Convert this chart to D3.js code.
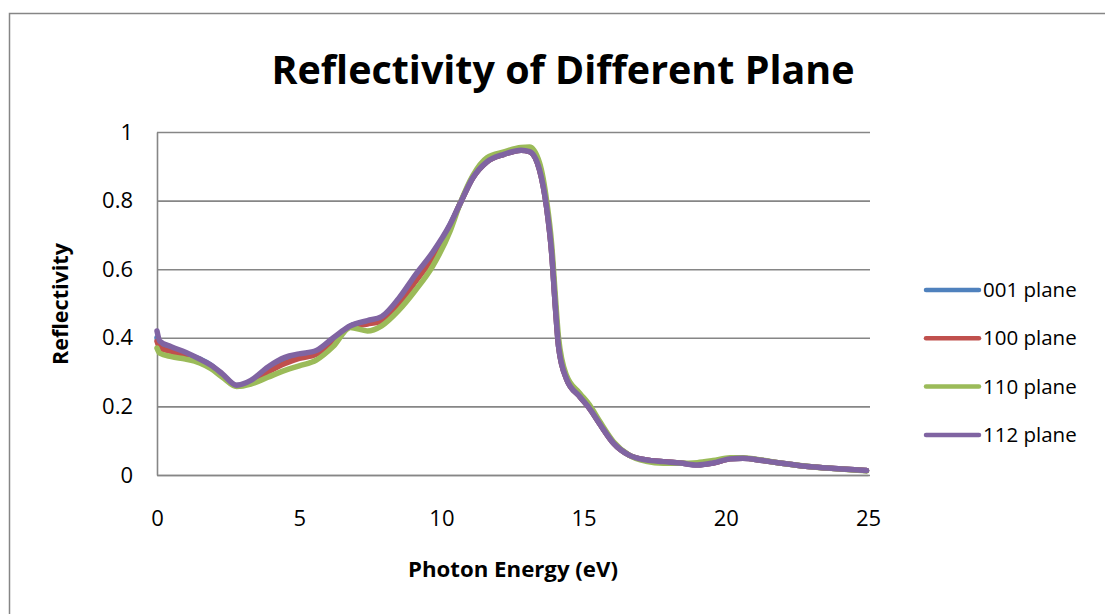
<!DOCTYPE html>
<html>
<head>
<meta charset="utf-8">
<script src="https://cdn.jsdelivr.net/npm/d3@7/dist/d3.min.js"></script>
<style>
  html, body { margin: 0; padding: 0; background: #fff; }
  svg { display: block; font-family: "Open Sans", "DejaVu Sans", sans-serif; }
</style>
</head>
<body>
<svg id="chart" width="1105" height="614"></svg>
<script>
// Photon energy sample points (eV), shared by all series
const energy = [0, 0.1, 0.5, 1.0, 1.5, 1.9, 2.3, 2.8, 3.3, 3.9, 4.5, 5.0, 5.6, 6.2, 6.8, 7.4, 7.9,
  8.5, 9.1, 9.7, 10.3, 10.65, 11.1, 11.6, 12.2, 12.8, 13.1, 13.45, 13.7, 13.88, 14.0, 14.12, 14.4,
  14.87, 15.2, 15.6, 16.05, 16.6, 17.2, 17.8, 18.4, 19.0, 19.55, 20.15, 20.6, 21.3, 21.9, 23.1, 24.25, 24.95];

// Reflectivity for each crystal plane
const plane001 = [0.40, 0.375, 0.365, 0.352, 0.338, 0.32, 0.292, 0.261, 0.273, 0.308, 0.335, 0.347, 0.358,
  0.396, 0.434, 0.446, 0.456, 0.508, 0.575, 0.643, 0.728, 0.79, 0.866, 0.913, 0.935, 0.947, 0.943, 0.89,
  0.78, 0.645, 0.50, 0.375, 0.28, 0.228, 0.195, 0.145, 0.093, 0.058, 0.044, 0.039, 0.035, 0.03, 0.035,
  0.047, 0.049, 0.042, 0.035, 0.023, 0.017, 0.013];
const plane100 = [0.39, 0.37, 0.36, 0.348, 0.335, 0.318, 0.29, 0.26, 0.27, 0.30, 0.325, 0.34, 0.352,
  0.39, 0.432, 0.44, 0.45, 0.50, 0.565, 0.635, 0.725, 0.79, 0.866, 0.913, 0.935, 0.947, 0.943, 0.89,
  0.78, 0.645, 0.50, 0.375, 0.28, 0.228, 0.195, 0.145, 0.093, 0.058, 0.044, 0.039, 0.035, 0.03, 0.035,
  0.047, 0.049, 0.042, 0.035, 0.023, 0.017, 0.013];
const plane110 = [0.37, 0.355, 0.345, 0.338, 0.327, 0.31, 0.285, 0.258, 0.265, 0.285, 0.305, 0.318, 0.335,
  0.375, 0.43, 0.42, 0.435, 0.48, 0.54, 0.61, 0.71, 0.79, 0.872, 0.925, 0.942, 0.955, 0.956, 0.91,
  0.80, 0.67, 0.53, 0.40, 0.29, 0.238, 0.205, 0.152, 0.097, 0.058, 0.04, 0.034, 0.034, 0.036, 0.042,
  0.05, 0.05, 0.043, 0.035, 0.023, 0.016, 0.012];
const plane112 = [0.42, 0.39, 0.374, 0.358, 0.338, 0.32, 0.295, 0.262, 0.276, 0.315, 0.343, 0.353, 0.363,
  0.40, 0.435, 0.45, 0.462, 0.515, 0.585, 0.65, 0.73, 0.79, 0.866, 0.913, 0.935, 0.947, 0.943, 0.89,
  0.78, 0.645, 0.50, 0.375, 0.28, 0.228, 0.195, 0.145, 0.093, 0.058, 0.044, 0.039, 0.035, 0.029, 0.035,
  0.047, 0.049, 0.042, 0.035, 0.023, 0.017, 0.013];

const seriesNames = ["001 plane", "100 plane", "110 plane", "112 plane"];
const seriesValues = [plane001, plane100, plane110, plane112];
const seriesColors = ["#4F81BD", "#C0504D", "#9BBB59", "#8064A2"];

const xTicks = [0, 5, 10, 15, 20, 25];
const yTicks = [0, 0.2, 0.4, 0.6, 0.8, 1];

const titleText = "Reflectivity of Different Plane";
const xTitle = "Photon Energy (eV)";
const yTitle = "Reflectivity";

const svg = d3.select("#chart");
const grey = "#868686";

// chart area frame
svg.append("rect")
  .attr("x", 9.5).attr("y", 13.5)
  .attr("width", 1300).attr("height", 800)
  .attr("fill", "none").attr("stroke", grey).attr("stroke-width", 1.5);

const x = d3.scaleLinear().domain([0, 25]).range([157, 868]);
const y = d3.scaleLinear().domain([0, 1]).range([475, 132]);

// horizontal gridlines
svg.append("g")
  .attr("transform", "translate(157,0)")
  .call(d3.axisLeft(y).tickValues(yTicks).tickSize(-713).tickFormat(""))
  .call(g => g.select(".domain").remove())
  .call(g => g.selectAll("line").attr("stroke", grey).attr("stroke-width", 1.6));

// y axis labels
svg.append("g")
  .attr("transform", "translate(157,0)")
  .call(d3.axisLeft(y).tickValues(yTicks).tickSize(0).tickPadding(24)
    .tickFormat(d => d3.format("~g")(d)))
  .call(g => g.select(".domain").attr("stroke", grey).attr("stroke-width", 1.6))
  .call(g => g.selectAll("text").attr("font-size", 22).attr("fill", "#000")
    .attr("font-family", "Open Sans, sans-serif"));

// x axis labels
svg.append("g")
  .attr("transform", "translate(0,475)")
  .call(d3.axisBottom(x).tickValues(xTicks).tickSize(0).tickPadding(35).tickFormat(d3.format("d")))
  .call(g => g.select(".domain").attr("stroke", grey).attr("stroke-width", 1.6))
  .call(g => g.selectAll("text").attr("font-size", 22).attr("fill", "#000")
    .attr("font-family", "Open Sans, sans-serif"));

// series lines
const line = d3.line()
  .x((d, i) => x(energy[i]))
  .y(d => y(d))
  .curve(d3.curveMonotoneX);

svg.append("g").selectAll("path")
  .data(seriesValues)
  .join("path")
  .attr("d", line)
  .attr("fill", "none")
  .attr("stroke", (d, i) => seriesColors[i])
  .attr("stroke-width", 5.5)
  .attr("stroke-linejoin", "round")
  .attr("stroke-linecap", "round");

// text sized to a target width
function fitText(sel, width) {
  const w = sel.node().getComputedTextLength();
  const fs = parseFloat(sel.attr("font-size"));
  sel.attr("font-size", fs * width / w);
}

const title = svg.append("text")
  .attr("x", 563).attr("y", 84)
  .attr("text-anchor", "middle")
  .attr("font-weight", "bold").attr("font-size", 36)
  .text(titleText);
fitText(title, 583);

const xt = svg.append("text")
  .attr("x", 513).attr("y", 577)
  .attr("text-anchor", "middle")
  .attr("font-weight", "bold").attr("font-size", 18)
  .text(xTitle);
fitText(xt, 210);

const yt = svg.append("text")
  .attr("transform", "translate(68,304) rotate(-90)")
  .attr("text-anchor", "middle")
  .attr("font-weight", "bold").attr("font-size", 17)
  .text(yTitle);
fitText(yt, 122);

// legend
const legend = svg.append("g").selectAll("g")
  .data(seriesNames)
  .join("g")
  .attr("transform", (d, i) => `translate(0,${290 + i * 48.3})`);
legend.append("line")
  .attr("x1", 926).attr("x2", 979)
  .attr("stroke", (d, i) => seriesColors[i])
  .attr("stroke-width", 4.5)
  .attr("stroke-linecap", "round");
legend.append("text")
  .attr("x", 983).attr("y", 0)
  .attr("dy", "0.35em")
  .attr("font-size", 20.5)
  .text(d => d);
</script>
</body>
</html>
